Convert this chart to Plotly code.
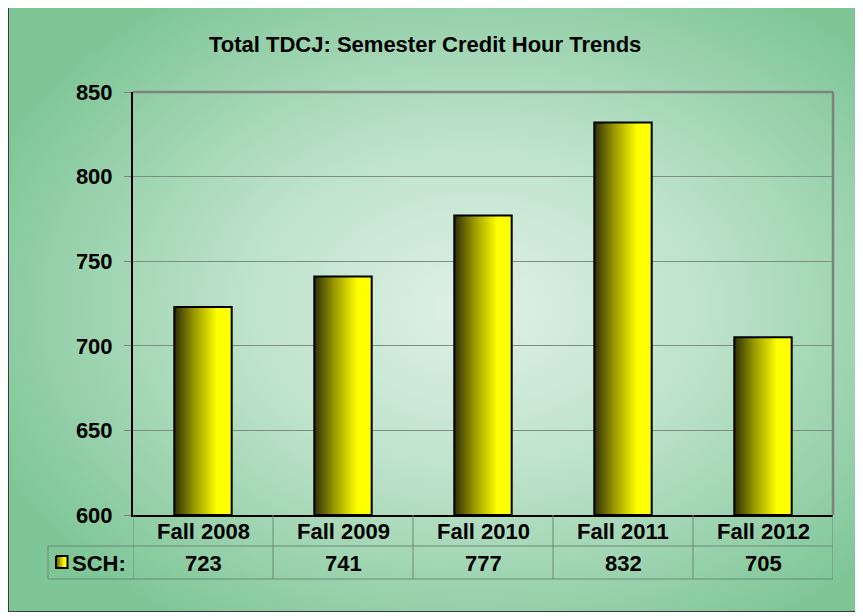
import base64
import plotly.graph_objects as go

categories = ["Fall 2008", "Fall 2009", "Fall 2010", "Fall 2011", "Fall 2012"]
sch_values = [723, 741, 777, 832, 705]
series_name = "SCH:"
title_text = "Total TDCJ: Semester Credit Hour Trends"
y_ticks = [600, 650, 700, 750, 800, 850]

# page body has an 8px margin; figure fits the remaining window
OFF = 8
W, H = 863 - OFF, 616 - OFF
FONT = "Liberation Sans, Arial, sans-serif"
FS = 22
BAR_HALF = 0.205
YMIN, YMAX = 600, 850


def px(x):
    return (x - OFF) / W


def py(y):
    return 1 - (y - OFF) / H


svg = f"""<svg xmlns='http://www.w3.org/2000/svg' width='{W}' height='{H}' viewBox='0 0 {W} {H}'>
<defs><radialGradient id='g' cx='0.55' cy='0.5' r='0.62'>
<stop offset='0' stop-color='#e0f1e6'/>
<stop offset='0.45' stop-color='#bde2ca'/>
<stop offset='1' stop-color='#7fc697'/>
</radialGradient></defs>
<rect x='0.5' y='-3.5' width='849' height='607' fill='url(#g)' stroke='#3c3c3c' stroke-width='1'/>
</svg>"""
svg_uri = "data:image/svg+xml;base64," + base64.b64encode(svg.encode()).decode()

fig = go.Figure()

bar_scale = [[0, "#2e2e08"], [0.35, "#9a9a00"], [0.75, "#ffff00"], [1, "#ffff00"]]
for i, v in enumerate(sch_values):
    fig.add_trace(go.Scatter(
        x=[i - BAR_HALF, i - BAR_HALF, i + BAR_HALF, i + BAR_HALF, i - BAR_HALF],
        y=[YMIN, v, v, YMIN, YMIN],
        mode="lines", fill="toself",
        fillgradient=dict(type="horizontal", colorscale=bar_scale),
        line=dict(color="black", width=2),
        hoverinfo="skip", showlegend=False,
    ))

# legend key in the data table (auxiliary axis spanning the page in pixels)
kx0, kx1, ky0, ky1 = 56 - OFF, 67.5 - OFF, 556 - OFF, 568 - OFF
fig.add_trace(go.Scatter(
    x=[kx0, kx0, kx1, kx1, kx0], y=[ky0, ky1, ky1, ky0, ky0],
    xaxis="x2", yaxis="y2", mode="lines", fill="toself",
    fillgradient=dict(type="horizontal", colorscale=[[0, "#555500"], [0.7, "#ffff00"], [1, "#ffff00"]]),
    line=dict(color="black", width=2), hoverinfo="skip", showlegend=False,
))

x0d, x1d = px(133), px(833)
y0d, y1d = py(515), py(92)

shapes = []
GRAY = "#808080"
GRID = "#7e8d83"
TABLE = "#6a8a74"
# top and right plot borders
shapes.append(dict(type="line", xref="paper", yref="paper", x0=x0d, x1=x1d, y0=y1d, y1=y1d,
                   line=dict(color=GRAY, width=2.5)))
shapes.append(dict(type="line", xref="paper", yref="paper", x0=x1d, x1=x1d, y0=y0d, y1=y1d,
                   line=dict(color=GRAY, width=2.5)))
# table horizontal lines
for yy in (546, 579):
    shapes.append(dict(type="line", xref="paper", yref="paper", x0=px(48), x1=x1d, y0=py(yy), y1=py(yy),
                       line=dict(color=TABLE, width=1)))
# table vertical lines at category boundaries
for k in range(len(categories) + 1):
    shapes.append(dict(type="line", xref="x", yref="paper", x0=k - 0.5, x1=k - 0.5, y0=py(515), y1=py(579),
                       line=dict(color=TABLE, width=1)))
shapes.append(dict(type="line", xref="paper", yref="paper", x0=px(48), x1=px(48), y0=py(546), y1=py(579),
                   line=dict(color=TABLE, width=1)))

bold = dict(family=FONT, size=FS, color="black", weight="bold")
annotations = [dict(text=title_text, xref="paper", yref="paper", x=px(425), y=py(44),
                    xanchor="center", yanchor="middle", showarrow=False, font=bold)]
for i, (c, v) in enumerate(zip(categories, sch_values)):
    annotations.append(dict(text=c, xref="x", yref="paper", x=i, y=py(531), xanchor="center",
                            yanchor="middle", showarrow=False, font=bold))
    annotations.append(dict(text=str(v), xref="x", yref="paper", x=i, y=py(563), xanchor="center",
                            yanchor="middle", showarrow=False, font=bold))
annotations.append(dict(text=series_name, xref="paper", yref="paper", x=px(70), y=py(563),
                        xanchor="left", yanchor="middle", showarrow=False, font=bold))

fig.update_layout(
    width=W, height=H,
    margin=dict(l=0, r=0, t=0, b=0),
    paper_bgcolor="white",
    plot_bgcolor="rgba(0,0,0,0)",
    showlegend=False,
    images=[dict(source=svg_uri, xref="paper", yref="paper", x=0, y=1, sizex=1, sizey=1,
                 xanchor="left", yanchor="top", sizing="stretch", layer="below")],
    xaxis=dict(domain=[x0d, x1d], range=[-0.5, len(categories) - 0.5], showgrid=False,
               zeroline=False, showticklabels=False, ticks="", showline=True,
               linecolor="black", linewidth=2, automargin=False, fixedrange=True),
    yaxis=dict(domain=[y0d, y1d], range=[YMIN, YMAX], tickvals=y_ticks, showgrid=True,
               gridcolor=GRID, gridwidth=1, zeroline=False, showline=True, linecolor="black",
               linewidth=2, ticks="outside", ticklen=7, tickcolor=GRAY, tickwidth=1,
               ticklabelstandoff=7, automargin=False,
               tickfont=bold, fixedrange=True),
    xaxis2=dict(domain=[0, 1], range=[0, W], visible=False, anchor="y2", fixedrange=True),
    yaxis2=dict(domain=[0, 1], range=[H, 0], visible=False, anchor="x2", fixedrange=True),
    shapes=shapes,
    annotations=annotations,
)

fig.write_html("out.html")
